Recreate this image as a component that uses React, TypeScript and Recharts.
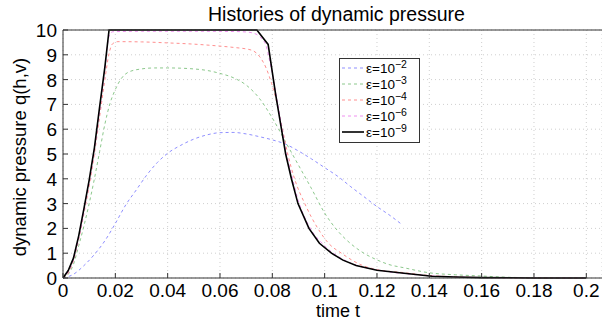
import { CartesianGrid, Legend, Line, LineChart, XAxis, YAxis } from 'recharts'

const xTicks = [0, 0.02, 0.04, 0.06, 0.08, 0.1, 0.12, 0.14, 0.16, 0.18, 0.2]
const yTicks = [0, 1, 2, 3, 4, 5, 6, 7, 8, 9, 10]

// eps = 1e-2
const tE2 = [0, 0.004, 0.008, 0.012, 0.016, 0.02, 0.024, 0.028, 0.032, 0.036, 0.04, 0.045, 0.05, 0.055, 0.06, 0.065, 0.07, 0.075, 0.08, 0.085, 0.09, 0.095, 0.1, 0.105, 0.11, 0.115, 0.12, 0.125, 0.129]
const qE2 = [0, 0.15, 0.5, 0.95, 1.5, 2.2, 2.95, 3.55, 4.15, 4.65, 5.03, 5.35, 5.6, 5.77, 5.86, 5.87, 5.81, 5.7, 5.57, 5.4, 5.12, 4.8, 4.45, 4.1, 3.68, 3.28, 2.88, 2.52, 2.2]

// eps = 1e-3
const tE3 = [0, 0.002, 0.004, 0.006, 0.008, 0.01, 0.012, 0.014, 0.016, 0.018, 0.02, 0.022, 0.025, 0.03, 0.035, 0.04, 0.045, 0.05, 0.055, 0.06, 0.065, 0.07, 0.075, 0.08, 0.085, 0.09, 0.095, 0.1, 0.105, 0.11, 0.115, 0.12, 0.125, 0.13, 0.14, 0.15, 0.16, 0.17, 0.18, 0.19]
const qE3 = [0, 0.15, 0.55, 1.3, 2.1, 3.0, 4.0, 5.1, 6.2, 7.05, 7.6, 8.0, 8.3, 8.43, 8.47, 8.47, 8.46, 8.43, 8.37, 8.25, 8.08, 7.78, 7.25, 6.45, 5.5, 4.55, 3.6, 2.62, 1.9, 1.38, 1.0, 0.73, 0.53, 0.42, 0.21, 0.13, 0.08, 0.03, 0.01, 0]

// eps = 1e-4
const tE4 = [0, 0.002, 0.004, 0.006, 0.008, 0.01, 0.012, 0.014, 0.016, 0.0176, 0.019, 0.021, 0.03, 0.04, 0.05, 0.06, 0.065, 0.072, 0.0752, 0.0777, 0.0797, 0.081, 0.0835, 0.0859, 0.0885, 0.0924, 0.0974, 0.1015, 0.1064, 0.1146, 0.12, 0.13, 0.14, 0.15, 0.16, 0.18, 0.2]
const qE4 = [0, 0.2, 0.7, 1.55, 2.6, 3.7, 5.0, 6.5, 8.0, 9.05, 9.45, 9.53, 9.52, 9.48, 9.43, 9.35, 9.3, 9.19, 8.92, 8.45, 7.85, 7.38, 6.2, 5.0, 4.0, 3.0, 2.0, 1.4, 1.0, 0.5, 0.34, 0.22, 0.1, 0.05, 0.02, 0.005, 0]

// eps = 1e-6
const tE6 = [0, 0.002, 0.004, 0.006, 0.008, 0.01, 0.012, 0.014, 0.016, 0.0176, 0.019, 0.03, 0.05, 0.065, 0.07, 0.0725, 0.075, 0.0775, 0.0795, 0.082, 0.085, 0.0875, 0.09, 0.094, 0.1, 0.105, 0.11, 0.12, 0.13, 0.14, 0.15, 0.16, 0.18, 0.2]
const qE6 = [0, 0.25, 0.75, 1.6, 2.7, 3.85, 5.15, 6.75, 8.4, 9.75, 9.93, 9.95, 9.95, 9.94, 9.92, 9.88, 9.75, 9.4, 8.5, 7.1, 5.2, 4.1, 3.1, 2.1, 1.3, 0.88, 0.6, 0.32, 0.18, 0.09, 0.04, 0.015, 0.003, 0]

// eps = 1e-9
const tE9 = [0, 0.002, 0.004, 0.006, 0.008, 0.01, 0.012, 0.014, 0.016, 0.0176, 0.0741, 0.0784, 0.0813, 0.0835, 0.0851, 0.0873, 0.0898, 0.094, 0.098, 0.1026, 0.107, 0.112, 0.12, 0.1286, 0.141, 0.15, 0.16, 0.18, 0.2]
const qE9 = [0, 0.3, 0.8, 1.7, 2.8, 3.95, 5.25, 6.9, 8.5, 10, 10, 9.42, 7.38, 6.0, 5.0, 4.0, 3.0, 2.0, 1.4, 1.0, 0.72, 0.5, 0.31, 0.21, 0.07, 0.04, 0.015, 0.003, 0]

const seriesNames = ['ε=10^-2', 'ε=10^-3', 'ε=10^-4', 'ε=10^-6', 'ε=10^-9']
const exponents = ['−2', '−3', '−4', '−6', '−9']
const seriesT = [tE2, tE3, tE4, tE6, tE9]
const seriesQ = [qE2, qE3, qE4, qE6, qE9]

const colors = ['#8f8fff', '#8cc88c', '#ff8f8f', '#f090f0', '#000000']
const dashes = ['3 3', '3 3', '3 3', '3 3', undefined]
const widths = [1, 1, 1, 1, 1.6]

const FONT = '"Liberation Sans", Arial, Helvetica, sans-serif'
const AXIS = '#333333'

const fmt = (v: number) => String(Number(v.toFixed(2)))

function BottomTick({ x, y, payload }: any) {
  return (
    <g>
      <line x1={x} y1={y} x2={x} y2={y - 5} stroke={AXIS} />
      <text x={x} y={y + 19} textAnchor="middle" fontSize={19} fontFamily={FONT} fill="#000">
        {fmt(payload.value)}
      </text>
    </g>
  )
}

function TopTick({ x, y }: any) {
  return <line x1={x} y1={y} x2={x} y2={y + 5} stroke={AXIS} />
}

function LeftTick({ x, y, payload }: any) {
  return (
    <g>
      <line x1={x} y1={y} x2={x + 5} y2={y} stroke={AXIS} />
      <text x={x - 6} y={y + 7} textAnchor="end" fontSize={19} fontFamily={FONT} fill="#000">
        {payload.value}
      </text>
    </g>
  )
}

function LegendBox() {
  return (
    <div
      style={{
        border: '1px solid #333',
        background: '#fff',
        width: 81,
        padding: '1px 0 2px 0',
        fontFamily: FONT,
        fontSize: 13.5,
        boxSizing: 'border-box',
      }}
    >
      {seriesNames.map((name, i) => (
        <div key={name} style={{ display: 'flex', alignItems: 'center', height: 16 }}>
          <svg width={26} height={8} style={{ flex: 'none' }}>
            <line x1={2} x2={24} y1={4} y2={4} stroke={colors[i]} strokeWidth={widths[i]} strokeDasharray={dashes[i]} />
          </svg>
          <span style={{ whiteSpace: 'nowrap' }}>
            ε=10
            <span style={{ fontSize: 10.5, position: 'relative', top: -5 }}>{exponents[i]}</span>
          </span>
        </div>
      ))}
    </div>
  )
}

const labelStyle = {
  position: 'absolute' as const,
  fontFamily: FONT,
  fontSize: 18,
  whiteSpace: 'nowrap' as const,
  lineHeight: '20px',
}

export default function App() {
  return (
    <div style={{ position: 'absolute', left: 0, top: 0, width: 602, height: 321, background: '#fff' }}>
      <LineChart width={602} height={321} margin={{ top: 0, right: 0, bottom: 0, left: 0 }}>
        <CartesianGrid stroke="#cfcfcf" strokeDasharray="1 3" />
        <XAxis
          dataKey="t"
          type="number"
          domain={[0, 0.206]}
          ticks={xTicks}
          interval={0}
          allowDataOverflow
          height={43}
          tickSize={0}
          tickMargin={0}
          tick={<BottomTick />}
          stroke={AXIS}
        />
        <XAxis
          xAxisId="top"
          orientation="top"
          dataKey="t"
          type="number"
          domain={[0, 0.206]}
          ticks={xTicks}
          interval={0}
          height={30}
          tickSize={0}
          tickMargin={0}
          tick={<TopTick />}
          stroke={AXIS}
        />
        <YAxis
          type="number"
          domain={[0, 10]}
          ticks={yTicks}
          interval={0}
          width={63}
          tickSize={0}
          tickMargin={0}
          tick={<LeftTick />}
          stroke={AXIS}
        />
        <Legend
          layout="horizontal"
          verticalAlign="middle"
          align="center"
          wrapperStyle={{ left: 339, top: 58, width: 81 }}
          content={() => <LegendBox />}
        />
        {seriesNames.map((name, i) => (
          <Line
            key={name}
            name={name}
            data={seriesT[i].map((t, k) => ({ t, q: seriesQ[i][k] }))}
            dataKey="q"
            type={i === 4 ? 'linear' : 'monotone'}
            stroke={colors[i]}
            strokeWidth={widths[i]}
            strokeDasharray={dashes[i]}
            dot={false}
            activeDot={false}
            isAnimationActive={false}
          />
        ))}
      </LineChart>
      <div style={{ ...labelStyle, left: 208, top: 4, fontSize: 19.5 }}>Histories of dynamic pressure</div>
      <div style={{ ...labelStyle, left: 0, width: 676, textAlign: 'center', top: 301 }}>time t</div>
      <div style={{ ...labelStyle, left: 20, top: 157, fontSize: 18.5, transform: 'translate(-50%, -50%) rotate(-90deg)' }}>
        dynamic pressure q(h,v)
      </div>
    </div>
  )
}
